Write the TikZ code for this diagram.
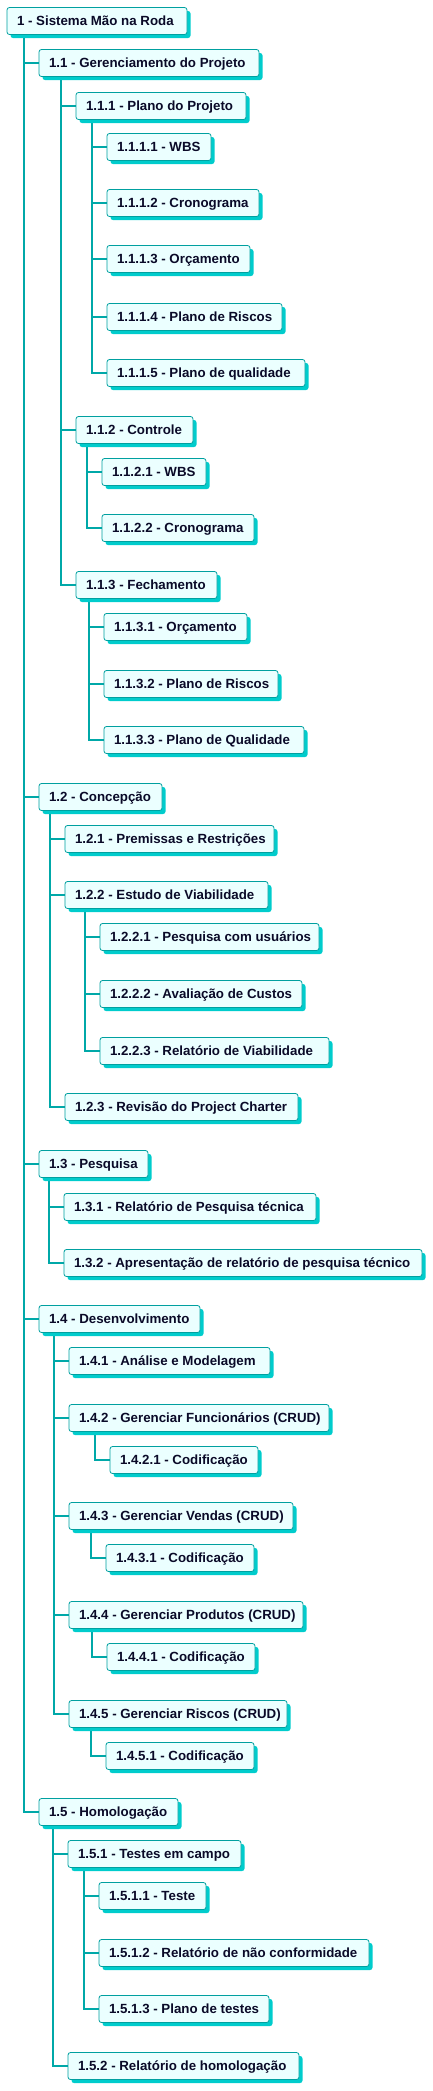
\documentclass[tikz,border=0pt]{standalone}
\usepackage{fontspec}
\setmainfont{Liberation Sans}
\usetikzlibrary{shadows,backgrounds}
\definecolor{linecol}{HTML}{00A8A8}
\definecolor{bordercol}{HTML}{00A0A0}
\definecolor{fillcol}{HTML}{EBFFFF}
\definecolor{shadowcol}{HTML}{00CCCC}
\definecolor{textcol}{HTML}{0A0A28}
\tikzset{
  wbsbox/.style={anchor=west, rectangle, rounded corners=2.5pt, draw=bordercol,
    line width=0.8pt, fill=fillcol, inner xsep=10pt, inner ysep=0pt, outer sep=0pt,
    minimum height=27pt, text height=9.5pt, text depth=0pt, text=textcol,
    font=\fontsize{13.3}{16}\selectfont\bfseries,
    drop shadow={shadow xshift=3.5pt, shadow yshift=-3.5pt, fill=shadowcol, opacity=1}},
  conn/.style={draw=linecol, line width=2pt}
}
\newcommand\wbs[5]{\node[wbsbox] (#1) at (#2,#3) {\makebox[\dimexpr #4pt-#2pt-20pt\relax][l]{#5}};}
\begin{document}
\begin{tikzpicture}[x=1pt,y=-1pt]
\useasboundingbox (0,0) rectangle (433,2091);
\wbs{n1}{7}{21}{187}{1 - Sistema Mão na Roda}
\wbs{n11}{39}{63}{259}{1.1 - Gerenciamento do Projeto}
\wbs{n111}{76}{106}{246}{1.1.1 - Plano do Projeto}
\wbs{n1111}{107}{147}{211}{1.1.1.1 - WBS}
\wbs{n1112}{107}{203}{259}{1.1.1.2 - Cronograma}
\wbs{n1113}{107}{259}{250}{1.1.1.3 - Orçamento}
\wbs{n1114}{107}{317}{282}{1.1.1.4 - Plano de Riscos}
\wbs{n1115}{107}{373}{305}{1.1.1.5 - Plano de qualidade}
\wbs{n112}{76}{430}{193}{1.1.2 - Controle}
\wbs{n1121}{102}{472}{206}{1.1.2.1 - WBS}
\wbs{n1122}{102}{528}{254}{1.1.2.2 - Cronograma}
\wbs{n113}{76}{585}{217}{1.1.3 - Fechamento}
\wbs{n1131}{104}{627}{247}{1.1.3.1 - Orçamento}
\wbs{n1132}{104}{684}{278}{1.1.3.2 - Plano de Riscos}
\wbs{n1133}{104}{740}{304}{1.1.3.3 - Plano de Qualidade}
\wbs{n12}{39}{797}{162}{1.2 - Concepção}
\wbs{n121}{65}{839}{274}{1.2.1 - Premissas e Restrições}
\wbs{n122}{65}{895}{268}{1.2.2 - Estudo de Viabilidade}
\wbs{n1221}{100}{937}{319}{1.2.2.1 - Pesquisa com usuários}
\wbs{n1222}{100}{994}{302}{1.2.2.2 - Avaliação de Custos}
\wbs{n1223}{100}{1051}{329}{1.2.2.3 - Relatório de Viabilidade}
\wbs{n123}{65}{1107}{298}{1.2.3 - Revisão do Project Charter}
\wbs{n13}{39}{1164}{148}{1.3 - Pesquisa}
\wbs{n131}{64}{1207}{316}{1.3.1 - Relatório de Pesquisa técnica}
\wbs{n132}{64}{1263}{422}{1.3.2 - Apresentação de relatório de pesquisa técnico}
\wbs{n14}{39}{1319}{200}{1.4 - Desenvolvimento}
\wbs{n141}{69}{1361}{270}{1.4.1 - Análise e Modelagem}
\wbs{n142}{69}{1418}{329}{1.4.2 - Gerenciar Funcionários (CRUD)}
\wbs{n1421}{110}{1460}{258}{1.4.2.1 - Codificação}
\wbs{n143}{69}{1516}{293}{1.4.3 - Gerenciar Vendas (CRUD)}
\wbs{n1431}{106}{1558}{254}{1.4.3.1 - Codificação}
\wbs{n144}{69}{1615}{303}{1.4.4 - Gerenciar Produtos (CRUD)}
\wbs{n1441}{107}{1657}{255}{1.4.4.1 - Codificação}
\wbs{n145}{69}{1714}{287}{1.4.5 - Gerenciar Riscos (CRUD)}
\wbs{n1451}{106}{1756}{254}{1.4.5.1 - Codificação}
\wbs{n15}{39}{1812}{178}{1.5 - Homologação}
\wbs{n151}{68}{1854}{241}{1.5.1 - Testes em campo}
\wbs{n1511}{99}{1896}{206}{1.5.1.1 - Teste}
\wbs{n1512}{99}{1953}{369}{1.5.1.2 - Relatório de não conformidade}
\wbs{n1513}{99}{2009}{269}{1.5.1.3 - Plano de testes}
\wbs{n152}{68}{2066}{299}{1.5.2 - Relatório de homologação}
\begin{pgfonlayer}{background}
\foreach \p/\c in {n1/n11,n1/n12,n1/n13,n1/n14,n1/n15,
  n11/n111,n11/n112,n11/n113,
  n111/n1111,n111/n1112,n111/n1113,n111/n1114,n111/n1115,
  n112/n1121,n112/n1122,
  n113/n1131,n113/n1132,n113/n1133,
  n12/n121,n12/n122,n12/n123,
  n122/n1221,n122/n1222,n122/n1223,
  n13/n131,n13/n132,
  n14/n141,n14/n142,n14/n143,n14/n144,n14/n145,
  n142/n1421,n143/n1431,n144/n1441,n145/n1451,
  n15/n151,n15/n152,
  n151/n1511,n151/n1512,n151/n1513}
  \draw[conn] ([xshift=-15pt]\c.west |- \p.south) |- (\c.west);
\end{pgfonlayer}
\end{tikzpicture}
\end{document}
